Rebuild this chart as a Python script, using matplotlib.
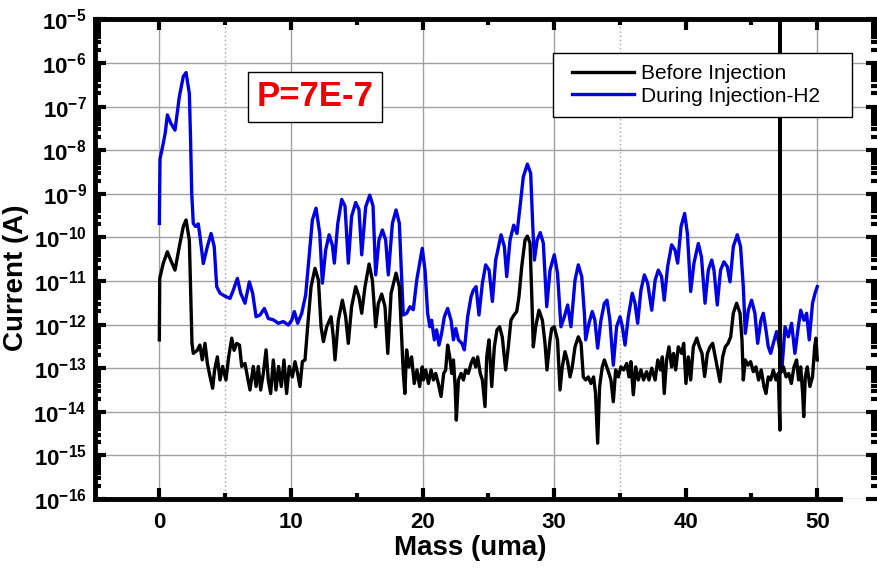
import numpy as np
import matplotlib
matplotlib.use('Agg')
import matplotlib.pyplot as plt
from matplotlib.patches import Rectangle
from matplotlib.ticker import FixedLocator, LogLocator, FuncFormatter, NullFormatter

plt.rcParams['font.family'] = 'Liberation Sans'
plt.rcParams['mathtext.fontset'] = 'custom'
plt.rcParams['mathtext.rm'] = 'Liberation Sans:bold'
plt.rcParams['mathtext.it'] = 'Liberation Sans:bold'
plt.rcParams['mathtext.bf'] = 'Liberation Sans:bold'

# data: mass (uma) and log10 of current (A)
during_mass = [
    0.00, 0.05, 0.30, 0.45, 0.61, 0.87, 1.19, 1.52, 1.82, 2.03, 2.28, 2.38, 2.46, 2.58, 2.75,
    2.96, 3.09, 3.34, 3.65, 3.93, 4.17, 4.36, 4.61, 5.00, 5.37, 5.62, 5.93, 6.18, 6.51, 6.84,
    7.09, 7.35, 7.65, 7.98, 8.28, 8.66, 9.04, 9.42, 9.80, 10.06, 10.26, 10.51, 10.82, 11.12,
    11.38, 11.63, 11.91, 12.19, 12.39, 12.64, 12.90, 13.15, 13.30, 13.56, 13.86, 14.11, 14.36,
    14.61, 14.92, 15.17, 15.38, 15.68, 15.99, 16.24, 16.44, 16.69, 16.95, 17.20, 17.40, 17.71,
    17.99, 18.24, 18.42, 18.54, 18.80, 19.05, 19.30, 19.56, 19.98, 20.19, 20.39, 20.56, 20.69,
    20.90, 21.07, 21.25, 21.45, 21.66, 21.91, 22.17, 22.35, 22.53, 22.73, 22.99, 23.18, 23.43,
    23.69, 23.86, 24.07, 24.29, 24.55, 24.80, 25.06, 25.31, 25.56, 25.97, 26.22, 26.40, 26.65,
    26.93, 27.18, 27.41, 27.66, 27.97, 28.22, 28.37, 28.50, 28.71, 28.95, 29.18, 29.44, 29.69,
    30.01, 30.26, 30.52, 30.78, 31.03, 31.28, 31.59, 31.84, 32.10, 32.30, 32.40, 32.65, 32.90,
    33.10, 33.31, 33.56, 33.82, 34.02, 34.24, 34.50, 34.75, 35.01, 35.19, 35.39, 35.64, 35.94,
    36.15, 36.35, 36.60, 36.86, 37.11, 37.42, 37.68, 37.92, 38.17, 38.37, 38.63, 38.93, 39.19,
    39.39, 39.65, 39.92, 40.13, 40.38, 40.63, 40.96, 41.20, 41.47, 41.72, 41.98, 42.15, 42.40,
    42.65, 42.91, 43.16, 43.37, 43.62, 43.92, 44.17, 44.38, 44.53, 44.76, 45.01, 45.26, 45.47,
    45.72, 45.90, 46.10, 46.28, 46.46, 46.66, 46.91, 47.12, 47.30, 47.55, 47.80, 48.05, 48.30,
    48.56, 48.74, 48.99, 49.19, 49.39, 49.64, 49.83, 50.00,
]
during_log = [
    -9.68, -8.20, -7.84, -7.60, -7.19, -7.38, -7.54, -6.77, -6.31, -6.22, -6.70, -7.84, -8.99, -9.68, -9.75,
    -9.69, -9.98, -10.60, -10.21, -9.91, -10.21, -11.13, -11.28, -11.35, -11.40, -11.21, -10.94, -11.28, -11.51, -11.02,
    -11.28, -11.82, -11.78, -11.63, -11.86, -11.89, -11.97, -11.93, -12.01, -11.90, -11.70, -11.97, -11.74, -11.32,
    -10.44, -9.60, -9.33, -9.91, -11.05, -10.29, -9.94, -10.18, -10.59, -9.68, -9.13, -9.28, -10.59,
    -9.52, -9.20, -9.36, -10.40, -9.30, -9.03, -9.28, -10.86, -10.06, -9.83, -10.06, -10.86, -9.68,
    -9.37, -9.68, -10.98, -11.78, -11.74, -11.59, -11.66, -10.98, -10.25, -10.75, -11.74, -12.05, -11.90,
    -12.35, -12.12, -12.47, -12.20, -11.82, -11.63, -11.90, -12.35, -12.09, -12.35, -12.43, -12.58, -11.82,
    -11.36, -11.21, -11.13, -11.78, -11.05, -10.63, -10.75, -11.47, -10.52, -9.94, -10.21, -10.90, -10.06,
    -9.72, -9.91, -9.30, -8.61, -8.32, -8.53, -9.68, -10.52, -10.06, -9.89, -10.13, -11.59, -10.75,
    -10.40, -10.82, -12.05, -11.82, -11.55, -12.05, -10.98, -10.63, -10.90, -11.74, -12.35, -11.97, -11.70,
    -11.90, -12.54, -11.90, -11.51, -11.44, -11.90, -12.93, -12.05, -11.82, -12.05, -12.47, -11.82, -11.28,
    -11.51, -11.97, -11.21, -10.86, -11.05, -11.67, -10.98, -10.75, -10.90, -11.44, -10.67, -10.17, -10.29,
    -10.59, -9.75, -9.45, -9.91, -11.24, -10.59, -10.14, -10.45, -11.51, -10.75, -10.52, -10.75, -11.55,
    -10.75, -10.56, -10.67, -11.02, -10.21, -9.94, -10.21, -11.13, -12.20, -11.67, -11.44, -11.74, -12.43,
    -11.90, -11.74, -12.12, -12.51, -12.66, -12.43, -12.16, -12.51, -13.08, -12.05, -12.28, -11.97, -12.66,
    -12.05, -11.67, -11.90, -11.74, -12.35, -11.51, -11.28, -11.13,
]

before_mass = [
    0.00, 0.03, 0.30, 0.61, 0.86, 1.19, 1.52, 1.82, 2.03, 2.28, 2.38, 2.48, 2.58, 2.88, 3.08,
    3.26, 3.47, 3.65, 3.85, 4.05, 4.20, 4.41, 4.61, 4.81, 5.06, 5.27, 5.50, 5.68, 5.88, 6.09,
    6.26, 6.51, 6.69, 6.89, 7.14, 7.35, 7.52, 7.70, 7.90, 8.11, 8.28, 8.46, 8.66, 8.86, 9.06,
    9.27, 9.47, 9.67, 9.87, 10.11, 10.31, 10.51, 10.69, 10.87, 11.07, 11.27, 11.53, 11.83, 12.09,
    12.29, 12.47, 12.72, 13.05, 13.22, 13.35, 13.60, 13.91, 14.16, 14.36, 14.61, 14.92, 15.17,
    15.38, 15.63, 15.94, 16.19, 16.44, 16.64, 16.90, 17.15, 17.36, 17.61, 17.99, 18.24, 18.42,
    18.54, 18.66, 18.79, 18.97, 19.17, 19.37, 19.58, 19.78, 19.98, 20.07, 20.24, 20.45, 20.65,
    20.83, 21.00, 21.20, 21.41, 21.61, 21.76, 21.91, 22.07, 22.22, 22.35, 22.48, 22.57, 22.73,
    22.93, 23.11, 23.28, 23.48, 23.69, 23.86, 24.04, 24.19, 24.39, 24.55, 24.75, 24.88, 25.05,
    25.26, 25.46, 25.66, 25.86, 26.06, 26.32, 26.52, 26.72, 26.93, 27.16, 27.33, 27.54, 27.79,
    27.97, 28.17, 28.29, 28.42, 28.60, 28.85, 29.11, 29.31, 29.46, 29.69, 29.82, 30.01, 30.26,
    30.45, 30.62, 30.83, 31.03, 31.21, 31.38, 31.59, 31.84, 32.05, 32.22, 32.40, 32.60, 32.80,
    33.00, 33.15, 33.31, 33.46, 33.66, 33.82, 34.00, 34.17, 34.32, 34.50, 34.68, 34.88, 35.08,
    35.29, 35.52, 35.69, 35.84, 36.02, 36.20, 36.40, 36.60, 36.80, 37.03, 37.21, 37.42, 37.68,
    37.88, 38.08, 38.23, 38.37, 38.55, 38.73, 38.93, 39.08, 39.24, 39.44, 39.69, 39.85, 40.02,
    40.20, 40.38, 40.58, 40.84, 41.04, 41.24, 41.44, 41.65, 41.85, 42.05, 42.25, 42.40, 42.61,
    42.81, 43.01, 43.22, 43.42, 43.62, 43.87, 44.13, 44.28, 44.38, 44.53, 44.73, 44.93, 45.14,
    45.34, 45.54, 45.74, 45.95, 46.10, 46.28, 46.46, 46.66, 46.86, 47.04, 47.16, 47.18, 47.20,
    47.43, 47.63, 47.83, 48.03, 48.23, 48.43, 48.58, 48.74, 48.89, 48.97, 49.09, 49.24, 49.44,
    49.64, 49.80, 49.90, 50.00,
]
before_log = [
    -12.35, -10.94, -10.59, -10.33, -10.52, -10.75, -10.21, -9.75, -9.60, -10.06, -11.28, -12.43, -12.66, -12.59, -12.47,
    -12.81, -12.43, -12.89, -13.19, -13.46, -13.04, -12.74, -13.27, -12.96, -13.27, -12.74, -12.31, -12.59, -12.43, -12.47,
    -12.96, -12.89, -13.19, -13.50, -12.96, -13.42, -12.96, -13.50, -13.12, -12.58, -13.27, -13.58, -12.81, -13.50, -12.96,
    -13.42, -12.81, -13.58, -12.96, -13.20, -12.85, -13.12, -13.42, -12.85, -12.81, -12.05, -11.13, -10.71, -10.98,
    -12.05, -12.39, -12.05, -11.82, -12.28, -12.81, -11.90, -11.44, -11.82, -12.43, -11.59, -11.13, -11.36,
    -11.74, -11.13, -10.61, -10.98, -12.05, -11.52, -11.30, -11.59, -12.66, -11.28, -10.82, -11.13, -12.35,
    -13.12, -13.58, -12.58, -12.97, -12.74, -13.35, -13.04, -13.42, -12.97, -13.27, -13.04, -13.35, -13.04,
    -13.27, -13.12, -13.35, -13.65, -13.12, -13.04, -12.47, -12.74, -13.12, -12.81, -13.42, -14.19, -13.27,
    -13.12, -13.27, -13.04, -13.12, -12.89, -12.77, -12.97, -12.74, -13.12, -13.27, -13.88, -12.74, -12.35,
    -13.42, -12.51, -12.12, -12.05, -12.28, -13.04, -12.51, -11.90, -11.79, -11.70, -11.36, -10.67, -10.06,
    -9.97, -10.13, -11.21, -12.51, -12.05, -11.67, -11.90, -12.43, -13.04, -12.35, -12.09, -12.05, -12.35,
    -13.50, -12.97, -12.62, -12.85, -13.20, -12.97, -12.51, -12.28, -12.43, -13.20, -13.27, -13.20, -13.35,
    -13.20, -13.58, -14.72, -13.42, -12.97, -12.81, -12.97, -13.12, -13.27, -13.77, -13.04, -13.20, -12.97,
    -13.04, -12.89, -13.20, -12.85, -13.61, -12.97, -13.27, -13.04, -13.27, -13.08, -13.27, -13.00, -13.27,
    -12.81, -13.04, -12.74, -13.58, -12.81, -12.51, -12.97, -12.66, -13.04, -12.51, -12.66, -12.43, -13.35,
    -12.74, -13.27, -12.51, -12.31, -12.51, -12.66, -13.19, -12.66, -12.51, -12.43, -12.74, -12.97, -13.31,
    -12.74, -12.51, -12.43, -12.28, -11.74, -11.51, -11.74, -12.35, -13.27, -12.81, -12.93, -12.85, -13.08,
    -12.97, -13.27, -13.04, -13.42, -13.58, -13.20, -13.27, -13.04, -13.27, -13.12, -14.42, -4.00, -13.10,
    -12.97, -13.20, -13.12, -13.35, -12.97, -12.81, -13.27, -12.97, -13.58, -14.11, -13.20, -12.97, -13.42,
    -13.20, -12.51, -12.31, -12.81,
]

W, H = 878, 573
AX_L, AX_R, AX_T, AX_B = 95, 877, 19.4, 499
fig = plt.figure(figsize=(W / 100, H / 100), dpi=100)
ax = fig.add_axes([AX_L / W, (H - AX_B) / H, (AX_R - AX_L) / W, (AX_B - AX_T) / H])


def px(x, y):
    # pixel position in the picture -> axes fraction
    return (x - AX_L) / (AX_R - AX_L), (AX_B - y) / (AX_B - AX_T)


ax.set_yscale('log')
ax.set_xlim(-4.89, 54.54)
ax.set_ylim(1e-16, 1e-5)

# grid as in the original: decades, plus a few vertical lines
for d in range(-16, -4):
    ax.axhline(10.0 ** d, color='#a0a0a0', lw=1.0, zorder=0)
for xv in [0, 10, 20, 30, 50]:
    ax.axvline(xv, color='#a0a0a0', lw=1.0, zorder=0)
for xv in [5, 35]:
    ax.axvline(xv, color='#a0a0a0', lw=1.0, ls=(0, (1, 2)), zorder=0)

l_during, = ax.plot(during_mass, np.power(10.0, during_log), color='#0000e6', lw=2.4,
                    label='During Injection-H2', zorder=2)
l_before, = ax.plot(before_mass, np.power(10.0, before_log), color='black', lw=2.4,
                    label='Before Injection', zorder=3)

# legend box drawn separately: Origin leaves a wide right margin
x0, y0 = px(553, 117)
x1, y1 = px(852, 53)
ax.add_patch(Rectangle((x0, y0), x1 - x0, y1 - y0, transform=ax.transAxes,
                       fc='white', ec='black', lw=1.0, zorder=4))
leg = ax.legend(handles=[l_before, l_during], loc='center left',
                bbox_to_anchor=px(572, 85), fontsize=15, frameon=False,
                handlelength=3.0, handletextpad=0.3, labelspacing=0.15,
                borderpad=0, borderaxespad=0)
leg.set_zorder(5)

ax.text(*px(315, 97), 'P=7E-7', transform=ax.transAxes,
        color='#ee0000', fontsize=25, fontweight='bold', ha='center', va='center',
        bbox=dict(boxstyle='square,pad=0.25', fc='white', ec='black', lw=1.0), zorder=5)

# spines: Origin-like heavy frame, cropped on the right
for s in ['left', 'bottom', 'top']:
    ax.spines[s].set_linewidth(3.5)
ax.spines['right'].set_visible(False)
ax.spines['bottom'].set_bounds(-4.89, 51.7)

ax.xaxis.set_major_locator(FixedLocator([0, 10, 20, 30, 40, 50]))
ax.xaxis.set_minor_locator(FixedLocator([5, 15, 25, 35, 45]))
ax.yaxis.set_major_locator(LogLocator(base=10, numticks=20))
ax.yaxis.set_minor_locator(LogLocator(base=10, subs=np.arange(2, 10), numticks=20))
ax.yaxis.set_minor_formatter(NullFormatter())
ax.yaxis.set_major_formatter(FuncFormatter(
    lambda v, p: r'$\mathbf{10^{%d}}$' % int(round(np.log10(v)))))

ax.tick_params(which='both', direction='in', top=True, right=True, width=3)
ax.tick_params(which='major', length=8, labelsize=16, pad=6)
ax.tick_params(which='minor', length=4)
ax.tick_params(axis='x', which='major', pad=9)
for lab in ax.get_xticklabels():
    lab.set_fontweight('bold')

ax.set_xlabel('Mass (uma)', fontsize=20, fontweight='bold')
ax.xaxis.set_label_coords(*px(470, 548))
ax.xaxis.label.set_va('center')
ax.set_ylabel('Current (A)', fontsize=20, fontweight='bold')
ax.yaxis.set_label_coords(*px(16, 278))
ax.yaxis.label.set_va('center')

fig.savefig('out.png', dpi=100)
